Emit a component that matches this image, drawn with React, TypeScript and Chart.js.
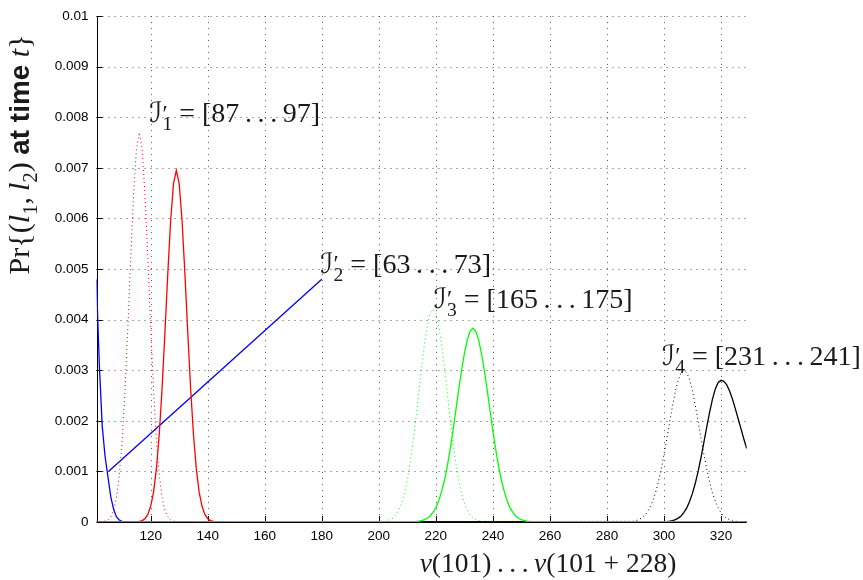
import { useEffect, useRef } from 'react';
import { Chart, registerables } from 'chart.js';

Chart.register(...registerables);

// ---------- axis data ----------
const xMin = 101;
const xMax = 329;
const xTicks = [120, 140, 160, 180, 200, 220, 240, 260, 280, 300, 320];
const xTickLabels = ['120', '140', '160', '180', '200', '220', '240', '260', '280', '300', '320'];
const yMin = 0;
const yMax = 0.01;
const yTicks = [0, 0.001, 0.002, 0.003, 0.004, 0.005, 0.006, 0.007, 0.008, 0.009, 0.01];
const yTickLabels = ['0', '0.001', '0.002', '0.003', '0.004', '0.005', '0.006', '0.007', '0.008', '0.009', '0.01'];

// ---------- series ----------
const blueX = [101, 101.5, 102, 103, 104, 105, 106, 107, 108, 109, 110, 111, 329];
const blueY = [0.0048, 0.0039, 0.0031, 0.0019, 0.0013, 0.0009, 0.0005, 0.00025, 0.0001, 0.00004, 0.00001, 0, 0];

const redDotX = [101, 103, 104, 105, 106, 107, 108, 109, 110, 111, 112, 113, 114, 115, 116, 117, 118, 119, 120, 121, 122, 123, 124, 125, 126, 127, 128, 129, 329];
const redDotY = [0, 0.00001, 0.00002, 0.00004, 0.0001, 0.00023, 0.00048, 0.00093, 0.00162, 0.00261, 0.00385, 0.00522, 0.00648, 0.00737, 0.0077, 0.00737, 0.00648, 0.00522, 0.00385, 0.00261, 0.00162, 0.00093, 0.00048, 0.00023, 0.0001, 0.00004, 0.00002, 0.00001, 0];

const redX = [101, 116, 117, 118, 119, 120, 121, 122, 123, 124, 125, 126, 127, 128, 129, 130, 131, 132, 133, 134, 135, 136, 137, 138, 139, 140, 141, 142, 329];
const redY = [0, 0.00001, 0.000027, 0.000065, 0.00015, 0.00031, 0.00059, 0.00105, 0.00173, 0.00265, 0.00375, 0.00491, 0.00596, 0.00669, 0.00695, 0.00669, 0.00596, 0.00491, 0.00375, 0.00265, 0.00173, 0.00105, 0.00059, 0.00031, 0.00015, 0.000065, 0.000027, 0.00001, 0];

const greenDotX = [101, 202, 203, 204, 205, 206, 207, 208, 209, 210, 211, 212, 213, 214, 215, 216, 217, 218, 219, 220, 221, 222, 223, 224, 225, 226, 227, 228, 229, 230, 231, 232, 233, 234, 235, 236, 329];
const greenDotY = [0, 0.000013, 0.00003, 0.00005, 0.00008, 0.00014, 0.00024, 0.00037, 0.00057, 0.00083, 0.00117, 0.00158, 0.00204, 0.00255, 0.00305, 0.00351, 0.00388, 0.00412, 0.0042, 0.00412, 0.00388, 0.00351, 0.00305, 0.00255, 0.00204, 0.00158, 0.00117, 0.00083, 0.00057, 0.00037, 0.00024, 0.00014, 0.00008, 0.00005, 0.00003, 0.000013, 0];

const greenX = [101, 213, 214, 215, 216, 217, 218, 219, 220, 221, 222, 223, 224, 225, 226, 227, 228, 229, 230, 231, 232, 233, 234, 235, 236, 237, 238, 239, 240, 241, 242, 243, 244, 245, 246, 247, 248, 249, 250, 251, 252, 253, 329];
const greenY = [0, 0.00001, 0.000015, 0.000026, 0.000045, 0.000075, 0.00012, 0.00019, 0.00028, 0.00042, 0.0006, 0.00082, 0.0011, 0.00143, 0.0018, 0.0022, 0.00261, 0.00299, 0.00333, 0.0036, 0.00377, 0.00383, 0.00377, 0.0036, 0.00333, 0.00299, 0.00261, 0.0022, 0.0018, 0.00143, 0.0011, 0.00082, 0.0006, 0.00042, 0.00028, 0.00019, 0.00012, 0.000075, 0.000045, 0.000026, 0.000015, 0.00001, 0];

const blackDotX = [101, 289, 290, 291, 292, 293, 294, 295, 296, 297, 298, 299, 300, 301, 302, 303, 304, 305, 306, 307, 308, 309, 310, 311, 312, 313, 314, 315, 316, 317, 318, 319, 320, 321, 322, 323, 324, 325, 329];
const blackDotY = [0, 0.000014, 0.000025, 0.000044, 0.000073, 0.00012, 0.00018, 0.00028, 0.00041, 0.00057, 0.00079, 0.00104, 0.00134, 0.00165, 0.00198, 0.0023, 0.00259, 0.00281, 0.00295, 0.003, 0.00295, 0.00281, 0.00259, 0.0023, 0.00198, 0.00165, 0.00134, 0.00104, 0.00079, 0.00057, 0.00041, 0.00028, 0.00018, 0.00012, 0.000073, 0.000044, 0.000025, 0.000014, 0];

const blackX = [101, 300, 301, 302, 303, 304, 305, 306, 307, 308, 309, 310, 311, 312, 313, 314, 315, 316, 317, 318, 319, 320, 321, 322, 323, 324, 325, 326, 327, 328, 329];
const blackY = [0, 0.000005, 0.000009, 0.000016, 0.000028, 0.000047, 0.000077, 0.00012, 0.00019, 0.00028, 0.00041, 0.00057, 0.00077, 0.00101, 0.00128, 0.00158, 0.00188, 0.00217, 0.00243, 0.00263, 0.00276, 0.0028, 0.00278, 0.00271, 0.00259, 0.00243, 0.00224, 0.00204, 0.00184, 0.00164, 0.00145];

// pointer line from the I'2 label
const pointerX = [105.2, 180];
const pointerY = [0.001, 0.0048];

// ---------- annotations ----------
const labelNames = ['1', '2', '3', '4'];
const labelRanges = ['[87\u2009.\u2009.\u2009.\u200997]', '[63\u2009.\u2009.\u2009.\u200973]', '[165\u2009.\u2009.\u2009.\u2009175]', '[231\u2009.\u2009.\u2009.\u2009241]'];
const labelX = [119.5, 179.5, 219.3, 299.3];
const labelY = [0.008, 0.00502, 0.00433, 0.0032];

const SERIF = "'Liberation Serif', 'DejaVu Serif', 'DejaVu Sans', serif";
const SANS = "'Liberation Sans', Arial, sans-serif";

type Seg = { t: string; s?: 'r' | 'i' | 'b' | 'sub' | 'prime'; noAdv?: boolean };

function fontFor(s: Seg['s'], size: number) {
  switch (s) {
    case 'i':
      return `italic ${size}px ${SERIF}`;
    case 'b':
      return `bold ${size * 0.93}px ${SANS}`;
    case 'sub':
      return `${size * 0.7}px ${SERIF}`;
    case 'prime':
      return `${size * 0.85}px ${SERIF}`;
    default:
      return `${size}px ${SERIF}`;
  }
}

function drawRich(ctx: CanvasRenderingContext2D, segs: Seg[], x: number, y: number, size: number, align: 'left' | 'center') {
  ctx.textBaseline = 'alphabetic';
  ctx.textAlign = 'left';
  const widths: number[] = [];
  let total = 0;
  for (const sg of segs) {
    ctx.font = fontFor(sg.s, size);
    const w = ctx.measureText(sg.t).width;
    widths.push(w);
    if (!sg.noAdv) total += w;
  }
  let cx = align === 'center' ? x - total / 2 : x;
  segs.forEach((sg, i) => {
    ctx.font = fontFor(sg.s, size);
    let dy = 0;
    if (sg.s === 'sub') dy = size * 0.28;
    if (sg.s === 'prime') dy = -size * 0.05;
    ctx.fillText(sg.t, cx, y + dy);
    if (!sg.noAdv) cx += widths[i];
  });
}

const decorPlugin = {
  id: 'decor',
  beforeDatasetsDraw(chart: any) {
    const { ctx, chartArea: a, scales } = chart;
    const xs = scales.x;
    const ys = scales.y;
    const line = (x1: number, y1: number, x2: number, y2: number) => {
      ctx.beginPath();
      ctx.moveTo(x1, y1);
      ctx.lineTo(x2, y2);
      ctx.stroke();
    };
    ctx.save();
    ctx.lineWidth = 1;
    ctx.strokeStyle = '#555555';
    ctx.setLineDash([1, 5]);
    xTicks.forEach((v) => {
      const px = Math.round(xs.getPixelForValue(v)) + 0.5;
      line(px, a.top, px, a.bottom);
    });
    yTicks.forEach((v) => {
      if (v === 0) return;
      const py = Math.round(ys.getPixelForValue(v)) + 0.5;
      line(a.left, py, a.right, py);
    });
    ctx.setLineDash([]);
    ctx.strokeStyle = '#000';
    xTicks.forEach((v) => {
      const px = Math.round(xs.getPixelForValue(v)) + 0.5;
      line(px, a.bottom, px, a.bottom - 6);
    });
    yTicks.forEach((v) => {
      const py = Math.round(ys.getPixelForValue(v)) + 0.5;
      line(a.left, py, a.left + 6, py);
    });
    const lx = Math.round(a.left) + 0.5;
    const by = Math.round(a.bottom) + 0.5;
    line(lx, a.top, lx, by);
    line(lx, by, a.right, by);
    ctx.restore();
  },
  afterDraw(chart: any) {
    const { ctx, scales } = chart;
    const xs = scales.x;
    const ys = scales.y;
    const size = 28;
    ctx.save();
    ctx.fillStyle = '#1a1a1a';
    labelNames.forEach((n, i) => {
      const px = xs.getPixelForValue(labelX[i]);
      const py = ys.getPixelForValue(labelY[i]) + size * 0.17;
      drawRich(
        ctx,
        [
          { t: '\u2110' },
          { t: '\u2032', s: 'prime', noAdv: true },
          { t: n, s: 'sub' },
          { t: ' = ' + labelRanges[i] },
        ],
        px,
        py,
        size,
        'left'
      );
    });
    // x title
    drawRich(
      ctx,
      [
        { t: 'v', s: 'i' },
        { t: '(101)\u2009.\u2009.\u2009.\u2009' },
        { t: 'v', s: 'i' },
        { t: '(101 + 228)' },
      ],
      548,
      572,
      27.5,
      'center'
    );
    // y title
    ctx.translate(29, 154.5);
    ctx.rotate(-Math.PI / 2);
    drawRich(
      ctx,
      [
        { t: 'Pr{(' },
        { t: 'l', s: 'i' },
        { t: '1', s: 'sub' },
        { t: ',\u2009' },
        { t: 'l', s: 'i' },
        { t: '2', s: 'sub' },
        { t: ') ' },
        { t: 'at time', s: 'b' },
        { t: ' ' },
        { t: 't', s: 'i' },
        { t: '}' },
      ],
      0,
      0,
      30,
      'center'
    );
    ctx.restore();
  },
};

function pts(xs: number[], ys: number[]) {
  return xs.map((x, i) => ({ x, y: ys[i] }));
}

export default function App() {
  const ref = useRef<HTMLCanvasElement | null>(null);
  useEffect(() => {
    if (!ref.current) return;
    const solid = (data: any, color: string, order: number) => ({
      data,
      borderColor: color,
      borderWidth: 1.3,
      pointRadius: 0,
      tension: 0,
      fill: false,
      order,
    });
    const dotted = (data: any, color: string, order: number) => ({
      data,
      borderColor: color,
      borderWidth: 1,
      borderDash: [1, 3],
      pointRadius: 0,
      tension: 0,
      fill: false,
      order,
    });
    const chart = new Chart(ref.current, {
      type: 'line',
      data: {
        datasets: [
          solid(pts(greenX, greenY), '#00ff00', 0),
          solid(pts(blackX, blackY), '#000000', 1),
          dotted(pts(blackDotX, blackDotY), '#000000', 2),
          dotted(pts(greenDotX, greenDotY), '#00ff00', 3),
          solid(pts(redX, redY), '#ff0000', 4),
          dotted(pts(redDotX, redDotY), '#ff0000', 5),
          solid(pts(blueX, blueY), '#0000ff', 6),
          solid(pts(pointerX, pointerY), '#0000ff', 7),
        ] as any,
      },
      options: {
        animation: false,
        responsive: false,
        events: [],
        layout: { padding: { left: 0, right: 116.3, top: 10, bottom: 0 } },
        plugins: { legend: { display: false }, tooltip: { enabled: false }, title: { display: false } },
        scales: {
          x: {
            type: 'linear',
            min: xMin,
            max: xMax,
            grid: { display: false, drawTicks: false },
            border: { display: false },
            afterBuildTicks: (s: any) => {
              s.ticks = xTicks.map((v) => ({ value: v }));
            },
            afterFit: (s: any) => {
              s.height = 58;
            },
            ticks: {
              padding: 6,
              color: '#000',
              font: { family: SANS, size: 13.5 },
              maxRotation: 0,
              autoSkip: false,
              callback: (_v: any, i: number) => xTickLabels[i],
            },
          },
          y: {
            type: 'linear',
            min: yMin,
            max: yMax,
            grid: { display: false, drawTicks: false },
            border: { display: false },
            afterBuildTicks: (s: any) => {
              s.ticks = yTicks.map((v) => ({ value: v }));
            },
            afterFit: (s: any) => {
              s.width = 96.5;
            },
            ticks: {
              padding: 8,
              color: '#000',
              font: { family: SANS, size: 13.5 },
              autoSkip: false,
              callback: (_v: any, i: number) => yTickLabels[i],
            },
          },
        },
      } as any,
      plugins: [decorPlugin],
    });
    return () => chart.destroy();
  }, []);
  return (
    <div style={{ position: 'absolute', left: 0, top: 0, width: 863, height: 580, background: '#fff' }}>
      <canvas ref={ref} width={863} height={580} style={{ display: 'block' }} />
    </div>
  );
}
